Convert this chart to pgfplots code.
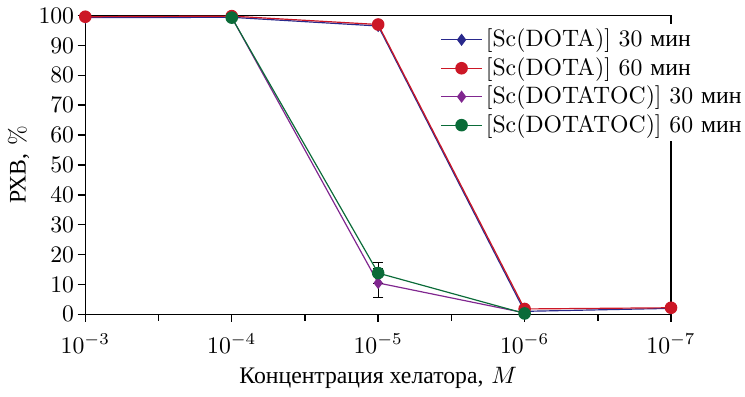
\documentclass[border=0pt]{standalone}
\usepackage{fontspec}
\usepackage{pgfplots}
\pgfplotsset{compat=1.18}
\newfontfamily\cyr{Liberation Serif}

\definecolor{dotaA}{rgb}{0.16,0.16,0.55}
\definecolor{dotaB}{rgb}{0.80,0.09,0.15}
\definecolor{tocA}{rgb}{0.50,0.15,0.56}
\definecolor{tocB}{rgb}{0.04,0.42,0.22}

\begin{document}
\begin{tikzpicture}
\begin{axis}[
  scale only axis,
  width=247pt, height=126pt,
  xmode=log, x dir=reverse,
  xmin=1e-7, xmax=1e-3,
  ymin=0, ymax=100,
  xtick={1e-7,1e-6,1e-5,1e-4,1e-3},
  minor xtick={3.1623e-7,3.1623e-6,3.1623e-5,3.1623e-4},
  ytick={0,10,...,100},
  xtick pos=lower, ytick pos=left,
  tick align=outside,
  major tick length=3.2pt, minor tick length=2.8pt,
  tick style={black, line width=0.6pt},
  axis line style={line width=0.6pt},
  yticklabel style={xshift=2pt},
  xticklabel style={yshift=-1.5pt},
  xlabel={{\cyr Концентрация хелатора,} $M$},
  ylabel={{\cyr РХВ,} \%},
  xlabel style={yshift=1pt},
  ylabel style={yshift=-3pt},
  legend cell align=left,
  legend style={draw=none, fill=white, inner sep=0pt,
    nodes={inner xsep=1.5pt},
    at={(0.606,0.972)}, anchor=north west,
    row sep=-1pt, font=\normalsize},
  every axis plot/.append style={line width=0.5pt},
]
\addplot[color=dotaA, mark=diamond*, mark size=2.2pt]
  coordinates {(1e-3,99.3) (1e-4,99.4) (1e-5,96.5) (1e-6,1.0) (1e-7,2.0)};
\addlegendentry{[Sc(DOTA)] 30 {\cyr мин}}
\addplot[color=dotaB, mark=*, mark size=2.4pt]
  coordinates {(1e-3,99.6) (1e-4,99.8) (1e-5,97.0) (1e-6,1.8) (1e-7,2.2)};
\addlegendentry{[Sc(DOTA)] 60 {\cyr мин}}
\addplot[color=tocA, mark=diamond*, mark size=2.2pt,
  error bars/.cd, y dir=both, y explicit,
  error bar style={black, line width=0.5pt}, error mark options={black, mark size=2.2pt, rotate=90}]
  coordinates {(1e-4,99.4) (1e-5,10.5) +- (0,5.0) (1e-6,0.5)};
\addlegendentry{[Sc(DOTATOC)] 30 {\cyr мин}}
\addplot[color=tocB, mark=*, mark size=2.4pt,
  error bars/.cd, y dir=both, y explicit,
  error bar style={black, line width=0.5pt}, error mark options={black, mark size=2.2pt, rotate=90}]
  coordinates {(1e-4,99.3) (1e-5,13.8) +- (0,3.5) (1e-6,0.3)};
\addlegendentry{[Sc(DOTATOC)] 60 {\cyr мин}}
\end{axis}
\end{tikzpicture}
\end{document}
